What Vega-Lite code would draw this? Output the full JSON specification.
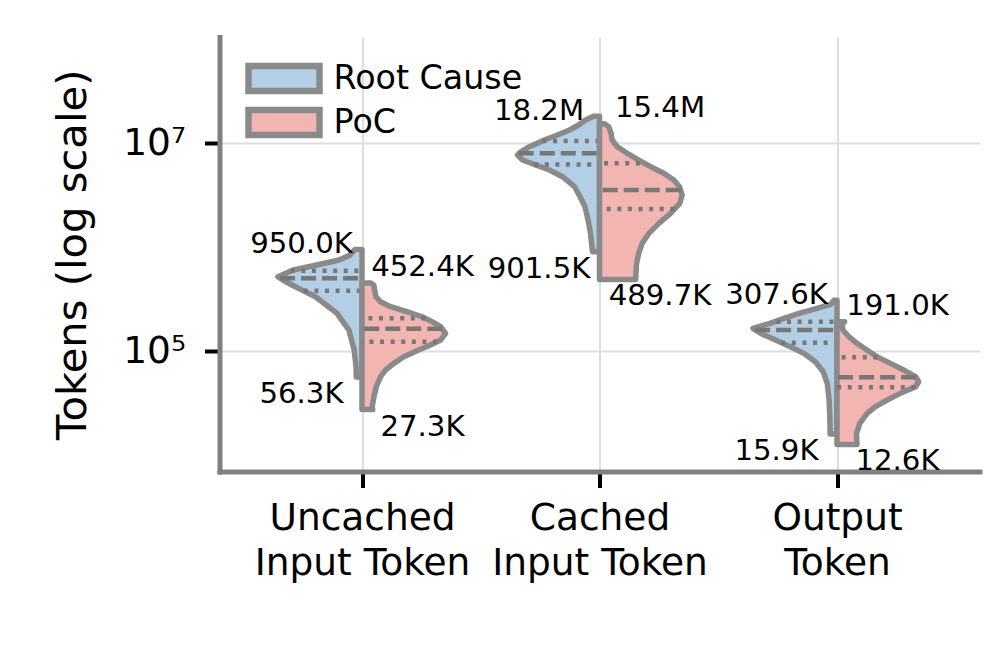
{
  "$schema": "https://vega.github.io/schema/vega-lite/v6.json",
  "width": 760,
  "height": 434.5,
  "autosize": "none",
  "padding": {"left": 219.5, "top": 37, "right": 18.5, "bottom": 183.5},
  "config": {"view": {"stroke": null}, "font": "DejaVu Sans"},
  "datasets": {
    "violin": [
      {"cat": "Uncached Input Token", "series": "Root Cause", "tokens": 56300, "density": 0.024},
      {"cat": "Uncached Input Token", "series": "Root Cause", "tokens": 70600, "density": 0.025},
      {"cat": "Uncached Input Token", "series": "Root Cause", "tokens": 102200, "density": 0.033},
      {"cat": "Uncached Input Token", "series": "Root Cause", "tokens": 159300, "density": 0.055},
      {"cat": "Uncached Input Token", "series": "Root Cause", "tokens": 230700, "density": 0.105},
      {"cat": "Uncached Input Token", "series": "Root Cause", "tokens": 333400, "density": 0.196},
      {"cat": "Uncached Input Token", "series": "Root Cause", "tokens": 432100, "density": 0.295},
      {"cat": "Uncached Input Token", "series": "Root Cause", "tokens": 482800, "density": 0.333},
      {"cat": "Uncached Input Token", "series": "Root Cause", "tokens": 519400, "density": 0.354},
      {"cat": "Uncached Input Token", "series": "Root Cause", "tokens": 602600, "density": 0.29},
      {"cat": "Uncached Input Token", "series": "Root Cause", "tokens": 673000, "density": 0.19},
      {"cat": "Uncached Input Token", "series": "Root Cause", "tokens": 752000, "density": 0.097},
      {"cat": "Uncached Input Token", "series": "Root Cause", "tokens": 840500, "density": 0.05},
      {"cat": "Uncached Input Token", "series": "Root Cause", "tokens": 950000, "density": 0.03},

      {"cat": "Uncached Input Token", "series": "PoC", "tokens": 27300, "density": 0.045},
      {"cat": "Uncached Input Token", "series": "PoC", "tokens": 29100, "density": 0.043},
      {"cat": "Uncached Input Token", "series": "PoC", "tokens": 36300, "density": 0.05},
      {"cat": "Uncached Input Token", "series": "PoC", "tokens": 45300, "density": 0.06},
      {"cat": "Uncached Input Token", "series": "PoC", "tokens": 56600, "density": 0.078},
      {"cat": "Uncached Input Token", "series": "PoC", "tokens": 65600, "density": 0.099},
      {"cat": "Uncached Input Token", "series": "PoC", "tokens": 76100, "density": 0.134},
      {"cat": "Uncached Input Token", "series": "PoC", "tokens": 88100, "density": 0.176},
      {"cat": "Uncached Input Token", "series": "PoC", "tokens": 102200, "density": 0.239},
      {"cat": "Uncached Input Token", "series": "PoC", "tokens": 114200, "density": 0.288},
      {"cat": "Uncached Input Token", "series": "PoC", "tokens": 127600, "density": 0.331},
      {"cat": "Uncached Input Token", "series": "PoC", "tokens": 148100, "density": 0.352},
      {"cat": "Uncached Input Token", "series": "PoC", "tokens": 171400, "density": 0.331},
      {"cat": "Uncached Input Token", "series": "PoC", "tokens": 191500, "density": 0.295},
      {"cat": "Uncached Input Token", "series": "PoC", "tokens": 213900, "density": 0.253},
      {"cat": "Uncached Input Token", "series": "PoC", "tokens": 239000, "density": 0.189},
      {"cat": "Uncached Input Token", "series": "PoC", "tokens": 267100, "density": 0.12},
      {"cat": "Uncached Input Token", "series": "PoC", "tokens": 298400, "density": 0.078},
      {"cat": "Uncached Input Token", "series": "PoC", "tokens": 333400, "density": 0.059},
      {"cat": "Uncached Input Token", "series": "PoC", "tokens": 386700, "density": 0.053},
      {"cat": "Uncached Input Token", "series": "PoC", "tokens": 432100, "density": 0.05},
      {"cat": "Uncached Input Token", "series": "PoC", "tokens": 452400, "density": 0.036},

      {"cat": "Cached Input Token", "series": "Root Cause", "tokens": 901500, "density": 0.029},
      {"cat": "Cached Input Token", "series": "Root Cause", "tokens": 1010000, "density": 0.032},
      {"cat": "Cached Input Token", "series": "Root Cause", "tokens": 1359000, "density": 0.038},
      {"cat": "Cached Input Token", "series": "Root Cause", "tokens": 1826000, "density": 0.048},
      {"cat": "Cached Input Token", "series": "Root Cause", "tokens": 2452000, "density": 0.061},
      {"cat": "Cached Input Token", "series": "Root Cause", "tokens": 3060000, "density": 0.082},
      {"cat": "Cached Input Token", "series": "Root Cause", "tokens": 3821000, "density": 0.105},
      {"cat": "Cached Input Token", "series": "Root Cause", "tokens": 4769000, "density": 0.156},
      {"cat": "Cached Input Token", "series": "Root Cause", "tokens": 5533000, "density": 0.211},
      {"cat": "Cached Input Token", "series": "Root Cause", "tokens": 6181000, "density": 0.269},
      {"cat": "Cached Input Token", "series": "Root Cause", "tokens": 6906000, "density": 0.324},
      {"cat": "Cached Input Token", "series": "Root Cause", "tokens": 7715000, "density": 0.345},
      {"cat": "Cached Input Token", "series": "Root Cause", "tokens": 8245000, "density": 0.333},
      {"cat": "Cached Input Token", "series": "Root Cause", "tokens": 9275000, "density": 0.295},
      {"cat": "Cached Input Token", "series": "Root Cause", "tokens": 10760000, "density": 0.232},
      {"cat": "Cached Input Token", "series": "Root Cause", "tokens": 12020000, "density": 0.177},
      {"cat": "Cached Input Token", "series": "Root Cause", "tokens": 13430000, "density": 0.126},
      {"cat": "Cached Input Token", "series": "Root Cause", "tokens": 15000000, "density": 0.088},
      {"cat": "Cached Input Token", "series": "Root Cause", "tokens": 16760000, "density": 0.059},
      {"cat": "Cached Input Token", "series": "Root Cause", "tokens": 18200000, "density": 0.025},

      {"cat": "Cached Input Token", "series": "PoC", "tokens": 489700, "density": 0.152},
      {"cat": "Cached Input Token", "series": "PoC", "tokens": 698900, "density": 0.156},
      {"cat": "Cached Input Token", "series": "PoC", "tokens": 872500, "density": 0.165},
      {"cat": "Cached Input Token", "series": "PoC", "tokens": 1089000, "density": 0.18},
      {"cat": "Cached Input Token", "series": "PoC", "tokens": 1359000, "density": 0.208},
      {"cat": "Cached Input Token", "series": "PoC", "tokens": 1697000, "density": 0.25},
      {"cat": "Cached Input Token", "series": "PoC", "tokens": 2118000, "density": 0.299},
      {"cat": "Cached Input Token", "series": "PoC", "tokens": 2644000, "density": 0.338},
      {"cat": "Cached Input Token", "series": "PoC", "tokens": 3178000, "density": 0.348},
      {"cat": "Cached Input Token", "series": "PoC", "tokens": 3821000, "density": 0.337},
      {"cat": "Cached Input Token", "series": "PoC", "tokens": 4433000, "density": 0.313},
      {"cat": "Cached Input Token", "series": "PoC", "tokens": 5142000, "density": 0.271},
      {"cat": "Cached Input Token", "series": "PoC", "tokens": 5953000, "density": 0.215},
      {"cat": "Cached Input Token", "series": "PoC", "tokens": 6906000, "density": 0.165},
      {"cat": "Cached Input Token", "series": "PoC", "tokens": 8010000, "density": 0.117},
      {"cat": "Cached Input Token", "series": "PoC", "tokens": 9275000, "density": 0.075},
      {"cat": "Cached Input Token", "series": "PoC", "tokens": 10760000, "density": 0.053},
      {"cat": "Cached Input Token", "series": "PoC", "tokens": 12480000, "density": 0.049},
      {"cat": "Cached Input Token", "series": "PoC", "tokens": 14450000, "density": 0.039},
      {"cat": "Cached Input Token", "series": "PoC", "tokens": 15400000, "density": 0.021},

      {"cat": "Output Token", "series": "Root Cause", "tokens": 15900, "density": 0.029},
      {"cat": "Output Token", "series": "Root Cause", "tokens": 21650, "density": 0.03},
      {"cat": "Output Token", "series": "Root Cause", "tokens": 33750, "density": 0.033},
      {"cat": "Output Token", "series": "Root Cause", "tokens": 48900, "density": 0.041},
      {"cat": "Output Token", "series": "Root Cause", "tokens": 63200, "density": 0.058},
      {"cat": "Output Token", "series": "Root Cause", "tokens": 78900, "density": 0.091},
      {"cat": "Output Token", "series": "Root Cause", "tokens": 95000, "density": 0.14},
      {"cat": "Output Token", "series": "Root Cause", "tokens": 110000, "density": 0.196},
      {"cat": "Output Token", "series": "Root Cause", "tokens": 127600, "density": 0.259},
      {"cat": "Output Token", "series": "Root Cause", "tokens": 148100, "density": 0.322},
      {"cat": "Output Token", "series": "Root Cause", "tokens": 165400, "density": 0.354},
      {"cat": "Output Token", "series": "Root Cause", "tokens": 184800, "density": 0.282},
      {"cat": "Output Token", "series": "Root Cause", "tokens": 206500, "density": 0.223},
      {"cat": "Output Token", "series": "Root Cause", "tokens": 230700, "density": 0.16},
      {"cat": "Output Token", "series": "Root Cause", "tokens": 257800, "density": 0.084},
      {"cat": "Output Token", "series": "Root Cause", "tokens": 283600, "density": 0.025},
      {"cat": "Output Token", "series": "Root Cause", "tokens": 307600, "density": 0.013},

      {"cat": "Output Token", "series": "PoC", "tokens": 12600, "density": 0.084},
      {"cat": "Output Token", "series": "PoC", "tokens": 16130, "density": 0.082},
      {"cat": "Output Token", "series": "PoC", "tokens": 20130, "density": 0.096},
      {"cat": "Output Token", "series": "PoC", "tokens": 25130, "density": 0.127},
      {"cat": "Output Token", "series": "PoC", "tokens": 29100, "density": 0.162},
      {"cat": "Output Token", "series": "PoC", "tokens": 33750, "density": 0.211},
      {"cat": "Output Token", "series": "PoC", "tokens": 39140, "density": 0.267},
      {"cat": "Output Token", "series": "PoC", "tokens": 45300, "density": 0.331},
      {"cat": "Output Token", "series": "PoC", "tokens": 50600, "density": 0.344},
      {"cat": "Output Token", "series": "PoC", "tokens": 56600, "density": 0.331},
      {"cat": "Output Token", "series": "PoC", "tokens": 65600, "density": 0.281},
      {"cat": "Output Token", "series": "PoC", "tokens": 76100, "density": 0.225},
      {"cat": "Output Token", "series": "PoC", "tokens": 88100, "density": 0.168},
      {"cat": "Output Token", "series": "PoC", "tokens": 102200, "density": 0.126},
      {"cat": "Output Token", "series": "PoC", "tokens": 118700, "density": 0.084},
      {"cat": "Output Token", "series": "PoC", "tokens": 137300, "density": 0.05},
      {"cat": "Output Token", "series": "PoC", "tokens": 159300, "density": 0.025},
      {"cat": "Output Token", "series": "PoC", "tokens": 178000, "density": 0.021},
      {"cat": "Output Token", "series": "PoC", "tokens": 191000, "density": 0.032}
    ],
    "quart": [
      {"cat": "Uncached Input Token", "series": "Root Cause", "stat": "quartile", "tokens": 593000, "density": 0.3},
      {"cat": "Uncached Input Token", "series": "Root Cause", "stat": "median", "tokens": 501000, "density": 0.345},
      {"cat": "Uncached Input Token", "series": "Root Cause", "stat": "quartile", "tokens": 380700, "density": 0.245},
      {"cat": "Uncached Input Token", "series": "PoC", "stat": "quartile", "tokens": 206500, "density": 0.267},
      {"cat": "Uncached Input Token", "series": "PoC", "stat": "median", "tokens": 163900, "density": 0.338},
      {"cat": "Uncached Input Token", "series": "PoC", "stat": "quartile", "tokens": 122900, "density": 0.316},
      {"cat": "Cached Input Token", "series": "Root Cause", "stat": "quartile", "tokens": 10500000, "density": 0.24},
      {"cat": "Cached Input Token", "series": "Root Cause", "stat": "median", "tokens": 8010000, "density": 0.34},
      {"cat": "Cached Input Token", "series": "Root Cause", "stat": "quartile", "tokens": 6250000, "density": 0.275},
      {"cat": "Cached Input Token", "series": "PoC", "stat": "quartile", "tokens": 6420000, "density": 0.17},
      {"cat": "Cached Input Token", "series": "PoC", "stat": "median", "tokens": 3550000, "density": 0.342},
      {"cat": "Cached Input Token", "series": "PoC", "stat": "quartile", "tokens": 2330000, "density": 0.315},
      {"cat": "Output Token", "series": "Root Cause", "stat": "quartile", "tokens": 191500, "density": 0.255},
      {"cat": "Output Token", "series": "Root Cause", "stat": "median", "tokens": 159300, "density": 0.345},
      {"cat": "Output Token", "series": "Root Cause", "stat": "quartile", "tokens": 120200, "density": 0.235},
      {"cat": "Output Token", "series": "PoC", "stat": "quartile", "tokens": 86960, "density": 0.17},
      {"cat": "Output Token", "series": "PoC", "stat": "median", "tokens": 55800, "density": 0.333},
      {"cat": "Output Token", "series": "PoC", "stat": "quartile", "tokens": 44700, "density": 0.33}
    ],
    "ann": [
      {"cat": "Uncached Input Token", "series": "Root Cause", "kind": "max", "tokens": 950000, "label": "950.0K"},
      {"cat": "Uncached Input Token", "series": "Root Cause", "kind": "min", "tokens": 56300, "label": "56.3K"},
      {"cat": "Uncached Input Token", "series": "PoC", "kind": "max", "tokens": 452400, "label": "452.4K"},
      {"cat": "Uncached Input Token", "series": "PoC", "kind": "min", "tokens": 27300, "label": "27.3K"},
      {"cat": "Cached Input Token", "series": "Root Cause", "kind": "max", "tokens": 18200000, "label": "18.2M"},
      {"cat": "Cached Input Token", "series": "Root Cause", "kind": "min", "tokens": 901500, "label": "901.5K"},
      {"cat": "Cached Input Token", "series": "PoC", "kind": "max", "tokens": 15400000, "label": "15.4M"},
      {"cat": "Cached Input Token", "series": "PoC", "kind": "min", "tokens": 489700, "label": "489.7K"},
      {"cat": "Output Token", "series": "Root Cause", "kind": "max", "tokens": 307600, "label": "307.6K"},
      {"cat": "Output Token", "series": "Root Cause", "kind": "min", "tokens": 15900, "label": "15.9K"},
      {"cat": "Output Token", "series": "PoC", "kind": "max", "tokens": 191000, "label": "191.0K"},
      {"cat": "Output Token", "series": "PoC", "kind": "min", "tokens": 12600, "label": "12.6K"}
    ]
  },
  "encoding": {
    "y": {
      "field": "tokens", "type": "quantitative",
      "scale": {"type": "log", "domain": [6920, 105600000], "nice": false},
      "axis": {
        "values": [100000, 10000000],
        "labelExpr": "datum.value == 100000 ? '10⁵' : '10⁷'",
        "title": "Tokens (log scale)",
        "titleFont": "DejaVu Sans", "titleFontSize": 41.7, "titleFontWeight": "normal", "titleColor": "black", "titlePadding": 28,
        "labelFont": "DejaVu Sans", "labelFontSize": 37.5, "labelColor": "black", "labelPadding": 19,
        "tickSize": 15, "tickWidth": 4, "tickColor": "black",
        "domainColor": "#808080", "domainWidth": 5, "domainCap": "square",
        "grid": true, "gridColor": "#dedede", "gridWidth": 2
      }
    }
  },
  "layer": [
    {
      "encoding": {"x": {"field": "density", "type": "quantitative", "scale": {"domain": [-2.6, 0.6], "reverse": true, "nice": false, "zero": false}, "axis": null}},
      "layer": [
        {"data": {"name": "violin"}, "transform": [{"filter": "datum.cat == 'Uncached Input Token' && datum.series == 'Root Cause'"}],
         "mark": {"type": "area", "orient": "horizontal", "stroke": "#8a8a8a", "strokeWidth": 5.5, "strokeJoin": "round"},
         "encoding": {"x2": {"datum": 0},
           "fill": {"field": "series", "type": "nominal", "scale": {"domain": ["Root Cause", "PoC"], "range": ["#b2cfe5", "#f3b5b1"]},
             "legend": {"orient": "none", "legendX": 46, "legendY": 23, "title": null, "symbolType": "M-2.367,-0.833H2.367V0.833H-2.367Z", "symbolSize": 900, "symbolStrokeColor": "#8a8a8a", "symbolStrokeWidth": 6.5, "symbolOpacity": 1, "labelFont": "DejaVu Sans", "labelFontSize": 33.3, "labelColor": "black", "labelOffset": 31, "labelLimit": 500, "rowPadding": -9, "padding": 0}}}},
        {"data": {"name": "quart"}, "transform": [{"filter": "datum.cat == 'Uncached Input Token' && datum.series == 'Root Cause'"}],
         "mark": {"type": "rule", "color": "#777777", "strokeWidth": 4.5, "strokeCap": "butt"},
         "encoding": {"x2": {"datum": 0},
           "strokeDash": {"field": "stat", "type": "nominal", "scale": {"domain": ["median", "quartile"], "range": [[15, 6], [4, 6.6]]}, "legend": null}}}
      ]
    },
    {
      "encoding": {"x": {"field": "density", "type": "quantitative", "scale": {"domain": [-0.6, 2.6], "nice": false, "zero": false}, "axis": null}},
      "layer": [
        {"data": {"name": "violin"}, "transform": [{"filter": "datum.cat == 'Uncached Input Token' && datum.series == 'PoC'"}],
         "mark": {"type": "area", "orient": "horizontal", "stroke": "#8a8a8a", "strokeWidth": 5.5, "strokeJoin": "round"},
         "encoding": {"x2": {"datum": 0},
           "fill": {"field": "series", "type": "nominal", "scale": {"domain": ["Root Cause", "PoC"], "range": ["#b2cfe5", "#f3b5b1"]},
             "legend": {"orient": "none", "legendX": 46, "legendY": 23, "title": null, "symbolType": "M-2.367,-0.833H2.367V0.833H-2.367Z", "symbolSize": 900, "symbolStrokeColor": "#8a8a8a", "symbolStrokeWidth": 6.5, "symbolOpacity": 1, "labelFont": "DejaVu Sans", "labelFontSize": 33.3, "labelColor": "black", "labelOffset": 31, "labelLimit": 500, "rowPadding": -9, "padding": 0}}}},
        {"data": {"name": "quart"}, "transform": [{"filter": "datum.cat == 'Uncached Input Token' && datum.series == 'PoC'"}],
         "mark": {"type": "rule", "color": "#777777", "strokeWidth": 4.5, "strokeCap": "butt"},
         "encoding": {"x2": {"datum": 0},
           "strokeDash": {"field": "stat", "type": "nominal", "scale": {"domain": ["median", "quartile"], "range": [[15, 6], [4, 6.6]]}, "legend": null}}}
      ]
    },
    {
      "encoding": {"x": {"field": "density", "type": "quantitative", "scale": {"domain": [-1.6, 1.6], "reverse": true, "nice": false, "zero": false}, "axis": null}},
      "layer": [
        {"data": {"name": "violin"}, "transform": [{"filter": "datum.cat == 'Cached Input Token' && datum.series == 'Root Cause'"}],
         "mark": {"type": "area", "orient": "horizontal", "stroke": "#8a8a8a", "strokeWidth": 5.5, "strokeJoin": "round"},
         "encoding": {"x2": {"datum": 0},
           "fill": {"field": "series", "type": "nominal", "scale": {"domain": ["Root Cause", "PoC"], "range": ["#b2cfe5", "#f3b5b1"]},
             "legend": {"orient": "none", "legendX": 46, "legendY": 23, "title": null, "symbolType": "M-2.367,-0.833H2.367V0.833H-2.367Z", "symbolSize": 900, "symbolStrokeColor": "#8a8a8a", "symbolStrokeWidth": 6.5, "symbolOpacity": 1, "labelFont": "DejaVu Sans", "labelFontSize": 33.3, "labelColor": "black", "labelOffset": 31, "labelLimit": 500, "rowPadding": -9, "padding": 0}}}},
        {"data": {"name": "quart"}, "transform": [{"filter": "datum.cat == 'Cached Input Token' && datum.series == 'Root Cause'"}],
         "mark": {"type": "rule", "color": "#777777", "strokeWidth": 4.5, "strokeCap": "butt"},
         "encoding": {"x2": {"datum": 0},
           "strokeDash": {"field": "stat", "type": "nominal", "scale": {"domain": ["median", "quartile"], "range": [[15, 6], [4, 6.6]]}, "legend": null}}}
      ]
    },
    {
      "encoding": {"x": {"field": "density", "type": "quantitative", "scale": {"domain": [-1.6, 1.6], "nice": false, "zero": false}, "axis": null}},
      "layer": [
        {"data": {"name": "violin"}, "transform": [{"filter": "datum.cat == 'Cached Input Token' && datum.series == 'PoC'"}],
         "mark": {"type": "area", "orient": "horizontal", "stroke": "#8a8a8a", "strokeWidth": 5.5, "strokeJoin": "round"},
         "encoding": {"x2": {"datum": 0},
           "fill": {"field": "series", "type": "nominal", "scale": {"domain": ["Root Cause", "PoC"], "range": ["#b2cfe5", "#f3b5b1"]},
             "legend": {"orient": "none", "legendX": 46, "legendY": 23, "title": null, "symbolType": "M-2.367,-0.833H2.367V0.833H-2.367Z", "symbolSize": 900, "symbolStrokeColor": "#8a8a8a", "symbolStrokeWidth": 6.5, "symbolOpacity": 1, "labelFont": "DejaVu Sans", "labelFontSize": 33.3, "labelColor": "black", "labelOffset": 31, "labelLimit": 500, "rowPadding": -9, "padding": 0}}}},
        {"data": {"name": "quart"}, "transform": [{"filter": "datum.cat == 'Cached Input Token' && datum.series == 'PoC'"}],
         "mark": {"type": "rule", "color": "#777777", "strokeWidth": 4.5, "strokeCap": "butt"},
         "encoding": {"x2": {"datum": 0},
           "strokeDash": {"field": "stat", "type": "nominal", "scale": {"domain": ["median", "quartile"], "range": [[15, 6], [4, 6.6]]}, "legend": null}}}
      ]
    },
    {
      "encoding": {"x": {"field": "density", "type": "quantitative", "scale": {"domain": [-0.6, 2.6], "reverse": true, "nice": false, "zero": false}, "axis": null}},
      "layer": [
        {"data": {"name": "violin"}, "transform": [{"filter": "datum.cat == 'Output Token' && datum.series == 'Root Cause'"}],
         "mark": {"type": "area", "orient": "horizontal", "stroke": "#8a8a8a", "strokeWidth": 5.5, "strokeJoin": "round"},
         "encoding": {"x2": {"datum": 0},
           "fill": {"field": "series", "type": "nominal", "scale": {"domain": ["Root Cause", "PoC"], "range": ["#b2cfe5", "#f3b5b1"]},
             "legend": {"orient": "none", "legendX": 46, "legendY": 23, "title": null, "symbolType": "M-2.367,-0.833H2.367V0.833H-2.367Z", "symbolSize": 900, "symbolStrokeColor": "#8a8a8a", "symbolStrokeWidth": 6.5, "symbolOpacity": 1, "labelFont": "DejaVu Sans", "labelFontSize": 33.3, "labelColor": "black", "labelOffset": 31, "labelLimit": 500, "rowPadding": -9, "padding": 0}}}},
        {"data": {"name": "quart"}, "transform": [{"filter": "datum.cat == 'Output Token' && datum.series == 'Root Cause'"}],
         "mark": {"type": "rule", "color": "#777777", "strokeWidth": 4.5, "strokeCap": "butt"},
         "encoding": {"x2": {"datum": 0},
           "strokeDash": {"field": "stat", "type": "nominal", "scale": {"domain": ["median", "quartile"], "range": [[15, 6], [4, 6.6]]}, "legend": null}}}
      ]
    },
    {
      "encoding": {"x": {"field": "density", "type": "quantitative", "scale": {"domain": [-2.6, 0.6], "nice": false, "zero": false}, "axis": null}},
      "layer": [
        {"data": {"name": "violin"}, "transform": [{"filter": "datum.cat == 'Output Token' && datum.series == 'PoC'"}],
         "mark": {"type": "area", "orient": "horizontal", "stroke": "#8a8a8a", "strokeWidth": 5.5, "strokeJoin": "round"},
         "encoding": {"x2": {"datum": 0},
           "fill": {"field": "series", "type": "nominal", "scale": {"domain": ["Root Cause", "PoC"], "range": ["#b2cfe5", "#f3b5b1"]},
             "legend": {"orient": "none", "legendX": 46, "legendY": 23, "title": null, "symbolType": "M-2.367,-0.833H2.367V0.833H-2.367Z", "symbolSize": 900, "symbolStrokeColor": "#8a8a8a", "symbolStrokeWidth": 6.5, "symbolOpacity": 1, "labelFont": "DejaVu Sans", "labelFontSize": 33.3, "labelColor": "black", "labelOffset": 31, "labelLimit": 500, "rowPadding": -9, "padding": 0}}}},
        {"data": {"name": "quart"}, "transform": [{"filter": "datum.cat == 'Output Token' && datum.series == 'PoC'"}],
         "mark": {"type": "rule", "color": "#777777", "strokeWidth": 4.5, "strokeCap": "butt"},
         "encoding": {"x2": {"datum": 0},
           "strokeDash": {"field": "stat", "type": "nominal", "scale": {"domain": ["median", "quartile"], "range": [[15, 6], [4, 6.6]]}, "legend": null}}}
      ]
    },
    {
      "data": {"name": "ann"},
      "encoding": {
        "x": {
          "field": "cat", "type": "nominal",
          "scale": {"type": "point", "domain": ["Uncached Input Token", "Cached Input Token", "Output Token"], "padding": 0.6},
          "axis": {
            "title": null, "labelAngle": 0, "labelOverlap": false, "labelLimit": 600,
            "labelExpr": "datum.value == 'Uncached Input Token' ? ['Uncached', 'Input Token'] : datum.value == 'Cached Input Token' ? ['Cached', 'Input Token'] : ['Output', 'Token']",
            "labelFont": "DejaVu Sans", "labelFontSize": 37.5, "labelLineHeight": 45, "labelPadding": 12, "labelColor": "black",
            "tickSize": 16, "tickWidth": 4, "tickColor": "black",
            "domainColor": "#808080", "domainWidth": 5, "domainCap": "square",
            "grid": true, "gridColor": "#dedede", "gridWidth": 2
          }
        },
        "text": {"field": "label", "type": "nominal"}
      },
      "layer": [
        {"transform": [{"filter": "datum.series == 'Root Cause' && datum.kind == 'max'"}],
         "mark": {"type": "text", "font": "DejaVu Sans", "fontSize": 29.2, "color": "black", "align": "center", "baseline": "alphabetic", "dx": -60.5, "dy": 4}},
        {"transform": [{"filter": "datum.series == 'PoC' && datum.kind == 'max'"}],
         "mark": {"type": "text", "font": "DejaVu Sans", "fontSize": 29.2, "color": "black", "align": "center", "baseline": "alphabetic", "dx": 60.5, "dy": -7}},
        {"transform": [{"filter": "datum.series == 'Root Cause' && datum.kind == 'min'"}],
         "mark": {"type": "text", "font": "DejaVu Sans", "fontSize": 29.2, "color": "black", "align": "center", "baseline": "alphabetic", "dx": -60.5, "dy": 26}},
        {"transform": [{"filter": "datum.series == 'PoC' && datum.kind == 'min'"}],
         "mark": {"type": "text", "font": "DejaVu Sans", "fontSize": 29.2, "color": "black", "align": "center", "baseline": "alphabetic", "dx": 60.5, "dy": 26}}
      ]
    }
  ],
  "resolve": {"scale": {"x": "independent"}, "axis": {"x": "independent"}}
}
